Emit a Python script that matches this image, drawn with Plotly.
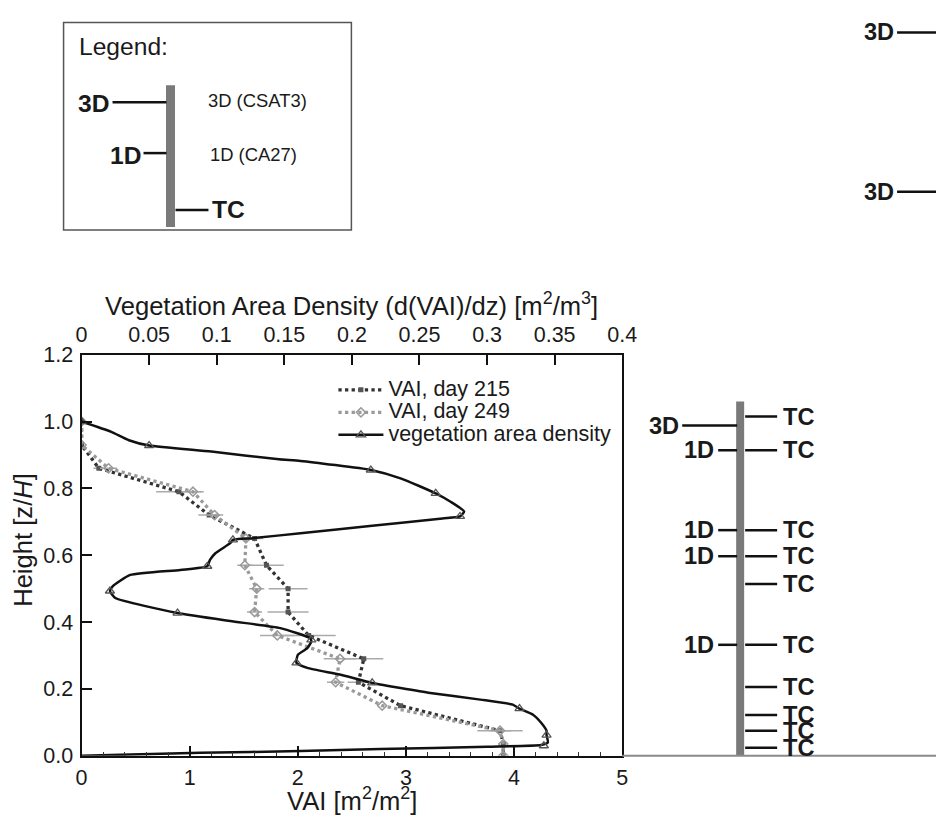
import plotly.graph_objects as go

W, H = 951, 819

# ---------------- data ----------------
# VAI profiles (x: VAI [m2/m2], y: z/H)
vai_z = [1.00, 0.93, 0.86, 0.79, 0.72, 0.65, 0.57, 0.50, 0.43, 0.36, 0.29, 0.22, 0.15, 0.075, 0.035, 0.0]
vai_215 = [0.00, 0.00, 0.16, 0.90, 1.18, 1.60, 1.71, 1.91, 1.91, 2.10, 2.61, 2.56, 2.95, 3.87, 3.90, 3.90]
vai_215_err = [0.0, 0.0, 0.05, 0.21, 0.10, 0.08, 0.16, 0.18, 0.19, 0.25, 0.18, 0.10, 0.0, 0.21, 0.0, 0.0]
vai_249 = [0.00, 0.00, 0.25, 1.03, 1.23, 1.52, 1.51, 1.62, 1.60, 1.81, 2.39, 2.35, 2.78, 3.87, 3.90, 3.90]
vai_249_err = [0.0, 0.0, 0.08, 0.10, 0.08, 0.08, 0.07, 0.07, 0.07, 0.16, 0.15, 0.08, 0.0, 0.10, 0.0, 0.0]

# vegetation area density profile (x: d(VAI)/dz [m2/m3], y: z/H)
dens_curve_z = [1.000, 0.969, 0.944, 0.928, 0.910, 0.887, 0.882, 0.855, 0.830, 0.785, 0.760,
                0.731, 0.716, 0.710, 0.688, 0.666, 0.651, 0.646, 0.636, 0.606, 0.586, 0.567,
                0.556, 0.541, 0.507, 0.493, 0.472, 0.427, 0.403, 0.382, 0.352, 0.342, 0.322,
                0.302, 0.278, 0.263, 0.243, 0.218, 0.203, 0.188, 0.168, 0.153, 0.141, 0.123,
                0.099, 0.075, 0.062, 0.040, 0.032, 0.027, 0.020, 0.014, 0.009, 0.003, 0.000]
dens_curve_d = [0.000, 0.022, 0.035, 0.050, 0.096, 0.146, 0.162, 0.214, 0.236, 0.262, 0.273,
                0.283, 0.280, 0.267, 0.215, 0.162, 0.127, 0.112, 0.110, 0.099, 0.095, 0.093,
                0.073, 0.036, 0.023, 0.021, 0.025, 0.071, 0.110, 0.147, 0.169, 0.170, 0.167,
                0.160, 0.159, 0.167, 0.191, 0.215, 0.236, 0.258, 0.295, 0.319, 0.324, 0.334,
                0.340, 0.344, 0.344, 0.345, 0.340, 0.300, 0.221, 0.162, 0.088, 0.029, 0.000]
dens_meas_z = [1.000, 0.928, 0.855, 0.785, 0.716, 0.646, 0.567, 0.493, 0.427, 0.347, 0.278, 0.218, 0.141, 0.062, 0.030]
dens_meas_d = [0.000, 0.050, 0.214, 0.262, 0.280, 0.112, 0.093, 0.021, 0.071, 0.170, 0.159, 0.215, 0.324, 0.344, 0.342]

# instrument heights on the tower (z/H)
tower_height = 1.06
tc_z = [1.015, 0.914, 0.675, 0.597, 0.514, 0.332, 0.206, 0.122, 0.075, 0.024]
d1_z = [0.914, 0.675, 0.597, 0.332]
d3_z = [0.988]
far_d3_z = [2.164, 1.687]   # second (taller) tower, cut at the figure edge

x_ticks_top = [0, 0.05, 0.1, 0.15, 0.2, 0.25, 0.3, 0.35, 0.4]

# ---------------- layout geometry ----------------
# target pixel positions are given in reference-image pixels; the photographed
# page shows the canvas slightly inset, so positions are mapped accordingly
AX, BX = 0.9785, 5.4
AY, BY = 0.9728, 11.6
FS = 1.0 / ((AX + AY) / 2)      # font compensation

PL, PR, PT, PB = 81, 622, 356, 758
ZPX = (PB - PT) / 1.2           # reference pixels per unit z/H


def fx(t):
    return ((t - BX) / AX) / W


def fy(t):
    return 1 - ((t - BY) / AY) / H


def fs(s):
    return round(s * FS, 1)


FONT = "Liberation Sans, Arial, sans-serif"
TXT = "#1a1a1a"

fig = go.Figure()

fig.add_trace(go.Scatter(
    x=vai_215, y=vai_z, mode="lines+markers", name="VAI, day 215",
    line=dict(color="#333333", width=3.3, dash="dot"),
    marker=dict(symbol="square", size=5, color="#555555"),
    error_x=dict(type="data", array=vai_215_err, color="#aaaaaa", thickness=1.5, width=0),
    xaxis="x", yaxis="y"))
fig.add_trace(go.Scatter(
    x=vai_249, y=vai_z, mode="lines+markers", name="VAI, day 249",
    line=dict(color="#9a9a9a", width=3.3, dash="dot"),
    marker=dict(symbol="diamond-open", size=7, color="#9a9a9a", line=dict(width=1.5)),
    error_x=dict(type="data", array=vai_249_err, color="#aaaaaa", thickness=1.5, width=0),
    xaxis="x", yaxis="y"))
fig.add_trace(go.Scatter(
    x=dens_curve_d, y=dens_curve_z, mode="lines", showlegend=False,
    line=dict(color="#111111", width=2.5, shape="spline", smoothing=0.5),
    xaxis="x2", yaxis="y"))
fig.add_trace(go.Scatter(
    x=dens_meas_d, y=dens_meas_z, mode="markers", showlegend=False,
    marker=dict(symbol="triangle-up-open", size=8, color="#555555", line=dict(width=1.3)),
    xaxis="x2", yaxis="y"))
# legend entry for the density profile
fig.add_trace(go.Scatter(
    x=[None], y=[None], mode="lines+markers", name="vegetation area density",
    line=dict(color="#111111", width=2.5),
    marker=dict(symbol="triangle-up-open", size=8, color="#555555", line=dict(width=1.3)),
    xaxis="x2", yaxis="y"))

# tower pole (full-figure overlay axis; x in reference pixels, y in z/H)
fig.add_trace(go.Scatter(
    x=[740, 740], y=[0, tower_height], mode="lines", showlegend=False,
    line=dict(color="#7a7a7a", width=8), xaxis="x3", yaxis="y3", hoverinfo="skip"))

shapes = []
annotations = []

shapes.append(dict(type="line", xref="x3", yref="y3", x0=PR, x1=W + 20, y0=0, y1=0,
                   line=dict(color="#8a8a8a", width=2)))
for z in tc_z:
    shapes.append(dict(type="line", xref="x3", yref="y3", x0=745, x1=777, y0=z, y1=z,
                       line=dict(color="#111", width=2.5)))
    annotations.append(dict(xref="x3", yref="y3", x=781, y=z, text="<b>TC</b>", showarrow=False,
                            xanchor="left", yanchor="middle", font=dict(size=fs(23), color=TXT)))
for z in d1_z:
    shapes.append(dict(type="line", xref="x3", yref="y3", x0=718, x1=737, y0=z, y1=z,
                       line=dict(color="#111", width=2.5)))
    annotations.append(dict(xref="x3", yref="y3", x=716, y=z, text="<b>1D</b>", showarrow=False,
                            xanchor="right", yanchor="middle", font=dict(size=fs(23), color=TXT)))
for z in d3_z:
    shapes.append(dict(type="line", xref="x3", yref="y3", x0=682, x1=737, y0=z, y1=z,
                       line=dict(color="#111", width=2.5)))
    annotations.append(dict(xref="x3", yref="y3", x=681, y=z, text="<b>3D</b>", showarrow=False,
                            xanchor="right", yanchor="middle", font=dict(size=fs(23), color=TXT)))
for z in far_d3_z:
    shapes.append(dict(type="line", xref="x3", yref="y3", x0=897, x1=W + 20, y0=z, y1=z,
                       line=dict(color="#111", width=2.5)))
    annotations.append(dict(xref="x3", yref="y3", x=896, y=z, text="<b>3D</b>", showarrow=False,
                            xanchor="right", yanchor="middle", font=dict(size=fs(23), color=TXT)))

# legend box (schematic key)
shapes.append(dict(type="rect", xref="paper", yref="paper", x0=fx(63), x1=fx(351), y0=fy(231), y1=fy(23),
                   line=dict(color="#555", width=1.5)))
shapes.append(dict(type="line", xref="paper", yref="paper", x0=fx(170), x1=fx(170), y0=fy(228), y1=fy(86),
                   line=dict(color="#7a7a7a", width=9)))
shapes.append(dict(type="line", xref="paper", yref="paper", x0=fx(112), x1=fx(166), y0=fy(103), y1=fy(103),
                   line=dict(color="#111", width=2.5)))
shapes.append(dict(type="line", xref="paper", yref="paper", x0=fx(143), x1=fx(166), y0=fy(154), y1=fy(154),
                   line=dict(color="#111", width=2.5)))
shapes.append(dict(type="line", xref="paper", yref="paper", x0=fx(175), x1=fx(208), y0=fy(211), y1=fy(211),
                   line=dict(color="#111", width=2.5)))


def ann(x, y, text, size, xanchor="left", **kw):
    annotations.append(dict(xref="paper", yref="paper", x=fx(x), y=fy(y), text=text, showarrow=False,
                            xanchor=xanchor, yanchor="middle", font=dict(size=fs(size), color=TXT), **kw))


ann(76, 47, "Legend:", 24)
ann(110, 104, "<b>3D</b>", 24, "right")
ann(142, 156, "<b>1D</b>", 24, "right")
ann(210, 211, "<b>TC</b>", 24, "left")
ann(206, 101, "3D (CSAT3)", 18)
ann(208, 155, "1D (CA27)", 18)

# axis titles
ann((PL + PR) / 2, 305, "Vegetation Area Density (d(VAI)/dz) [m<sup>2</sup>/m<sup>3</sup>]", 25, "center")
ann((PL + PR) / 2, 801, "VAI [m<sup>2</sup>/m<sup>2</sup>]", 25, "center")
annotations.append(dict(xref="paper", yref="paper", x=fx(23), y=fy(542), text="Height [z/<i>H</i>]",
                        showarrow=False, textangle=-90, xanchor="center", yanchor="middle",
                        font=dict(size=fs(25), color=TXT)))

axis_common = dict(showline=True, linecolor="#111", linewidth=2, ticks="inside", ticklen=10,
                   tickwidth=2, tickcolor="#111", showgrid=False, zeroline=False,
                   tickfont=dict(size=fs(21), color=TXT))

fig.update_layout(
    width=W, height=H,
    margin=dict(l=0, r=0, t=0, b=0, pad=0),
    paper_bgcolor="white", plot_bgcolor="rgba(0,0,0,0)",
    font=dict(family=FONT, color=TXT),
    hovermode=False,
    xaxis=dict(domain=[fx(PL), fx(PR)], range=[0, 5], anchor="y", tick0=0, dtick=1,
               minor=dict(dtick=0.2, ticks="inside", ticklen=4, tickwidth=1.2, tickcolor="#333"),
               ticklabelstandoff=1, **axis_common),
    xaxis2=dict(domain=[fx(PL), fx(PR)], range=[0, 0.4], anchor="y", overlaying="x", side="top",
                tickmode="array", tickvals=x_ticks_top, ticklabelstandoff=2, **axis_common),
    yaxis=dict(domain=[fy(PB), fy(PT)], range=[0, 1.2], anchor="x", dtick=0.2, tick0=0,
               tickformat=".1f", mirror=True, ticklabelstandoff=2, **axis_common),
    xaxis3=dict(domain=[0, 1], range=[BX, BX + AX * W], anchor="y3", visible=False, fixedrange=True),
    yaxis3=dict(domain=[0, 1], range=[(PB - (BY + AY * H)) / ZPX, (PB - BY) / ZPX], anchor="x3",
                visible=False, fixedrange=True),
    legend=dict(x=fx(333), y=fy(375), xanchor="left", yanchor="top", bgcolor="rgba(0,0,0,0)",
                font=dict(size=15, color=TXT), itemwidth=45, tracegroupgap=0),
    shapes=shapes,
    annotations=annotations,
)

# larger legend text while keeping the compact row spacing
for tr in fig.data:
    if tr.name and tr.showlegend is not False:
        tr.name = '<span style="font-size:21.5px">' + tr.name + '</span>'

fig.write_html(
    "out.html",
    config={"displayModeBar": False},
    post_script="document.body.style.margin='0';document.body.style.overflow='hidden';",
)
